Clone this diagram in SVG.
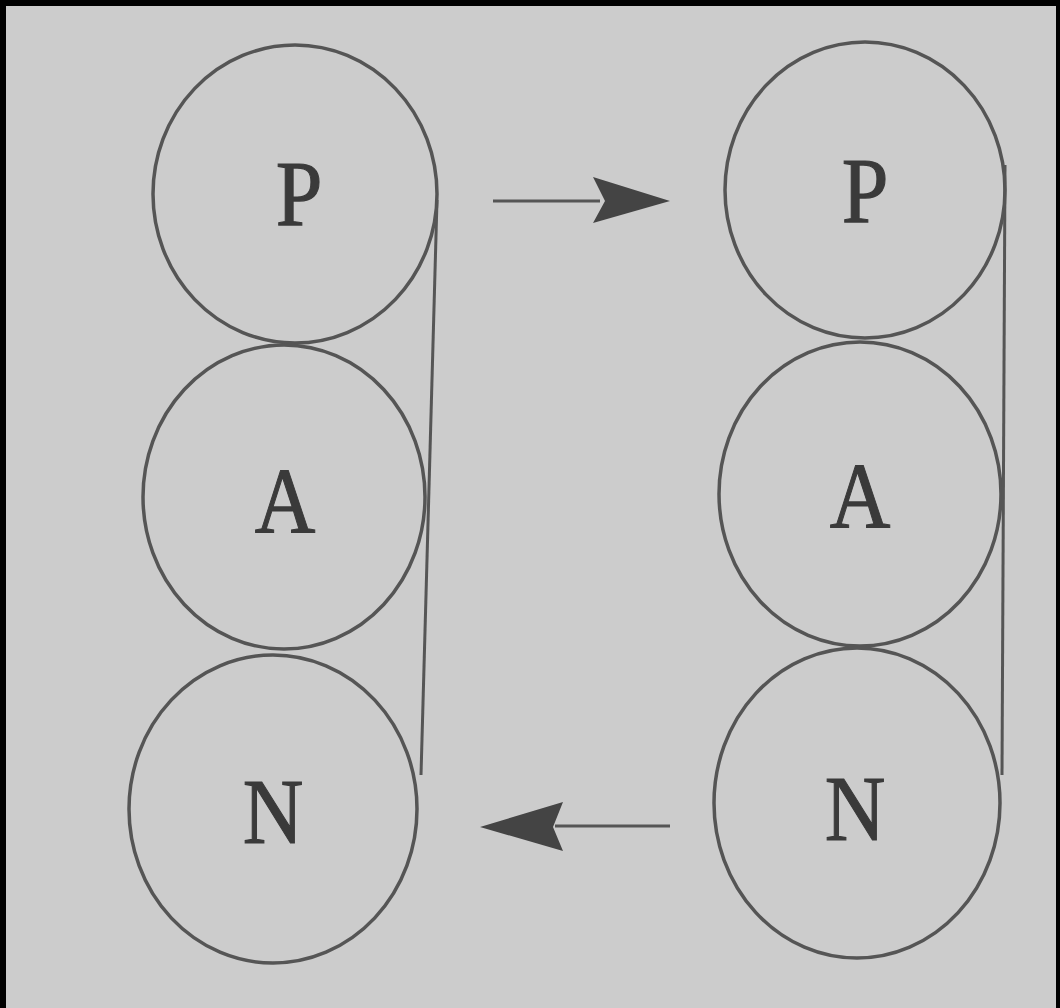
<svg xmlns="http://www.w3.org/2000/svg" width="1060" height="1008" viewBox="0 0 1060 1008">
<style>
.c{fill:none;stroke:#555;stroke-width:3.5}
.t{font-family:"Liberation Serif",serif;font-size:84px;fill:#3a3a3a;stroke:#3a3a3a;stroke-width:1;text-anchor:middle}
.l{stroke:#555;stroke-width:3;fill:none}
</style>
<rect x="0" y="0" width="1060" height="1008" fill="#000"/>
<rect x="6" y="6" width="1050" height="1008" fill="#cccccc"/>
<g id="leftP"><ellipse class="c" cx="295" cy="194" rx="142" ry="149"/><text class="t" transform="translate(299,225) scale(1,1.12)">P</text></g>
<g id="leftA"><ellipse class="c" cx="284" cy="497" rx="141" ry="152"/><text class="t" transform="translate(285,532) scale(1,1.12)">A</text></g>
<g id="leftN"><ellipse class="c" cx="273" cy="809" rx="144" ry="154"/><text class="t" transform="translate(273,843) scale(1,1.12)">N</text></g>
<g id="rightP"><ellipse class="c" cx="865" cy="190" rx="140" ry="148"/><text class="t" transform="translate(865,222) scale(1,1.12)">P</text></g>
<g id="rightA"><ellipse class="c" cx="860" cy="494" rx="141" ry="152"/><text class="t" transform="translate(860,527) scale(1,1.12)">A</text></g>
<g id="rightN"><ellipse class="c" cx="857" cy="803" rx="143" ry="155"/><text class="t" transform="translate(855,840) scale(1,1.12)">N</text></g>
<g id="connectors">
<line class="l" x1="437" y1="200" x2="421" y2="775"/>
<line class="l" x1="1005" y1="165" x2="1002" y2="775"/>
<line class="l" x1="493" y1="201" x2="600" y2="201"/>
<path d="M670,201 L593,177 L605,201 L593,223 Z" fill="#444"/>
<line class="l" x1="670" y1="826" x2="555" y2="826"/>
<path d="M480,827 L563,802 L553,827 L563,851 Z" fill="#444"/>
</g>
</svg>
